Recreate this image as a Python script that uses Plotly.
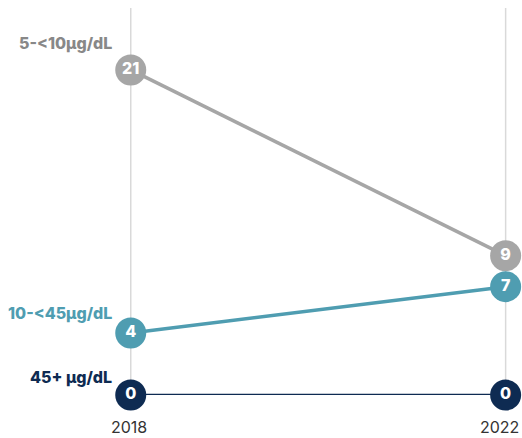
import plotly.graph_objects as go

# Years compared
years = [2018, 2022]

# Counts per blood-lead band
series_names = ["5-<10µg/dL", "10-<45µg/dL", "45+ µg/dL"]
band_5_10 = [21, 9]
band_10_45 = [4, 7]
band_45_plus = [0, 0]

series_values = [band_5_10, band_10_45, band_45_plus]
colors = ["#a6a6a6", "#4f9db1", "#0e2b52"]
label_colors = ["#888888", "#4f9db1", "#0e2b52"]
line_widths = [3.5, 3.5, 2.5]
label_shift = [27, 20, 18]
year_label_shift = [-2, -6]

FONT = "Inter"

fig = go.Figure()

# vertical guide lines at each year
for yr in years:
    fig.add_shape(type="line", xref="x", yref="y", x0=yr, x1=yr, y0=0, y1=25,
                  line=dict(color="#d9d9d9", width=1.5), layer="below")

for name, vals, col, lw in zip(series_names, series_values, colors, line_widths):
    fig.add_trace(go.Scatter(
        x=years, y=vals, mode="lines+markers+text",
        line=dict(color=col, width=lw),
        marker=dict(size=31, color=col, line=dict(width=0)),
        text=[str(v) for v in vals], textposition="middle center",
        textfont=dict(family=FONT, size=16, color="white", weight=800),
        cliponaxis=False, showlegend=False, hoverinfo="skip",
    ))

# series names to the left of the first point
for name, vals, col, sh in zip(series_names, series_values, label_colors, label_shift):
    fig.add_annotation(x=years[0], y=vals[0], xref="x", yref="y",
                       text=name, showarrow=False,
                       xanchor="right", yanchor="middle", xshift=-17, yshift=sh,
                       font=dict(family=FONT, size=16, color=col, weight=800))

# year labels under each guide line
for yr, xs in zip(years, year_label_shift):
    fig.add_annotation(x=yr, y=0, xref="x", yref="y", text=str(yr), showarrow=False,
                       xanchor="center", yanchor="middle", yshift=-32, xshift=xs,
                       font=dict(family=FONT, size=16, color="#333333"))

fig.update_layout(
    width=522, height=438,
    margin=dict(l=112, r=7, t=8, b=43),
    paper_bgcolor="white", plot_bgcolor="white",
    xaxis=dict(range=[2017.8, 2022.1], visible=False, showgrid=False, zeroline=False),
    yaxis=dict(range=[0, 25], visible=False, showgrid=False, zeroline=False),
)

fig.write_html("out.html")
